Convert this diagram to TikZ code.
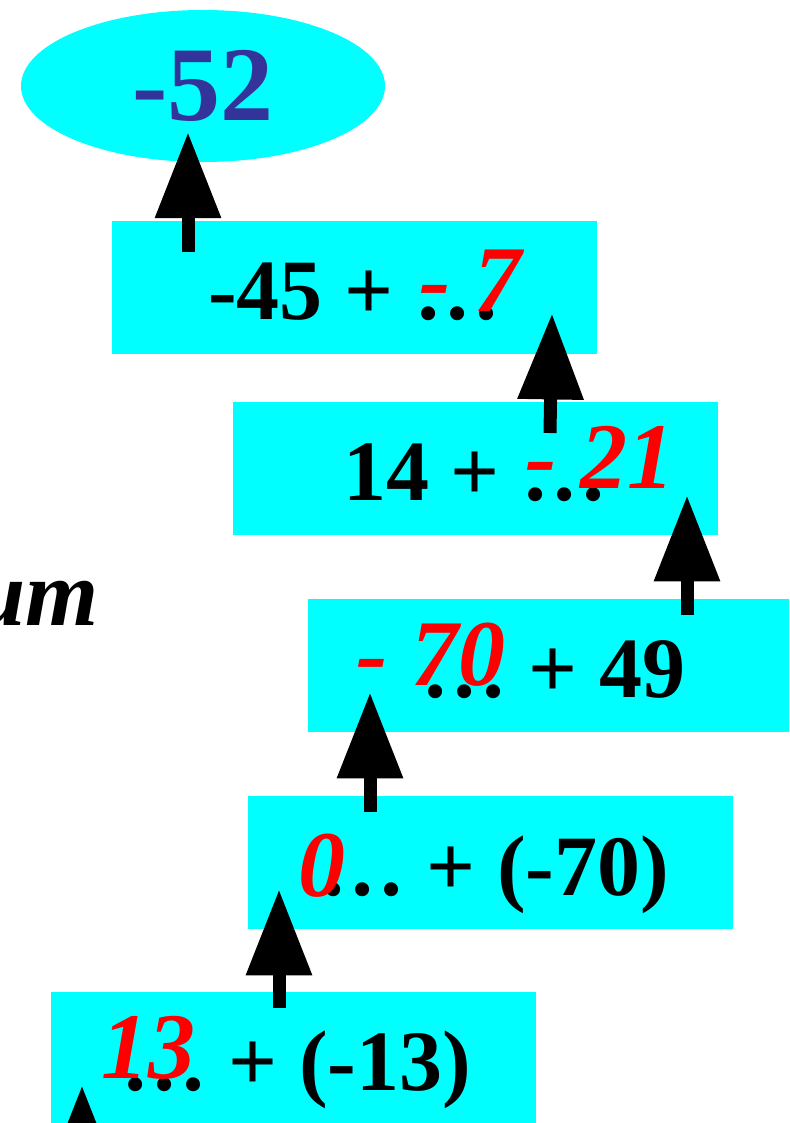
\documentclass[tikz,border=0pt]{standalone}
\usepackage{fontspec}
\setmainfont{Liberation Serif}
\usepackage{tikz}
\usetikzlibrary{arrows.meta,shapes.geometric,calc}
\definecolor{boxcyan}{RGB}{0,255,255}
\definecolor{sumblue}{RGB}{51,51,153}
\tikzset{
  sumbox/.style={fill=boxcyan, anchor=north west, minimum width=485pt, minimum height=133pt, inner sep=0pt},
  blacktxt/.style={font=\fontsize{86}{90}\selectfont\bfseries, anchor=base west, inner sep=0pt},
  redtxt/.style={font=\fontsize{94}{98}\selectfont\bfseries\itshape, text=red, anchor=base west, inner sep=0pt},
  uparrow/.style={line width=13pt, -{Triangle[length=86pt,width=63pt]}},
}

\begin{document}
\begin{tikzpicture}[x=1pt,y=-1pt]
        \useasboundingbox (0,0) rectangle (789,1123);
        \clip (0,0) rectangle (789,1123);
        % result
        \node[ellipse, fill=boxcyan, minimum width=364pt, minimum height=152pt, inner sep=0pt,
              text=sumblue, font=\fontsize{106}{110}\selectfont\bfseries] (res) at (203,86) {-52};
        % partial sums
        \foreach \nm/\x/\y in {A/112/221, B/233/402, C/308/599, D/248/796, E/51/992} {
          \node[sumbox] (\nm) at (\x,\y) {};
        }
        % black text of each step
        \foreach \nm/\x/\y/\txt in {A/208/319/{-45 + …}, B/343/500/{14 + …}, C/421/697/{… + 49},
                                    D/319/895/{… + (-70)}, E/121/1090/{… + (-13)}} {
          \node[blacktxt] (t\nm) at (\x,\y) {\txt};
        }
        % red values written over the dots
        \foreach \nm/\x/\y/\txt in {A/419/311/{- 7}, B/525/488/{- 21}, C/356/685/{- 70},
                                    D/298/896/{0}, E/101/1078/{13}} {
          \node[redtxt] (r\nm) at (\x,\y) {\txt};
        }
        % label cut by the left edge
        \node[font=\fontsize{94}{98}\selectfont\bfseries\itshape, anchor=base east, inner sep=0pt] (sum) at (99,625) {um};
        % arrows from each step to the next one
        \draw[uparrow] ([shift={(76,31)}]A.north west) -- ([shift={(-15,-30)}]res.south);
        \draw[uparrow] ([shift={(317,31)}]B.north west) -- ([shift={(440,-41)}]A.south west);
        \draw[uparrow] ([shift={(379,16)}]C.north west) -- ([shift={(454,-40)}]B.south west);
        \draw[uparrow] ([shift={(122,16)}]D.north west) -- ([shift={(62,-40)}]C.south west);
        \draw[uparrow] ([shift={(228,16)}]E.north west) -- ([shift={(31,-40)}]D.south west);
        \coordinate (below) at (82,1205);
        \draw[uparrow] (below) -- ([shift={(31,-40)}]E.south west);
\end{tikzpicture}
\end{document}
